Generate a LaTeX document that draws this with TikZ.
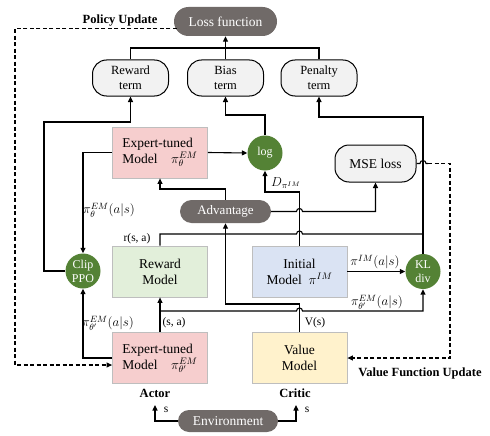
\RequirePackage{fix-cm}
\documentclass[tikz,border=0pt]{standalone}
\usepackage{fontspec}
\setmainfont{Liberation Serif}
\usetikzlibrary{arrows.meta,calc,shapes.misc}
\definecolor{stadgray}{RGB}{112,106,104}
\definecolor{cgreen}{RGB}{84,130,53}
\definecolor{termfill}{RGB}{242,242,242}
\definecolor{pinkfill}{RGB}{246,206,206}
\definecolor{greenfill}{RGB}{226,239,218}
\definecolor{bluefill}{RGB}{218,227,243}
\definecolor{yellowfill}{RGB}{255,242,204}
\definecolor{boxborder}{RGB}{190,190,190}
\tikzset{
  ln/.style={line width=1.1pt},
  dsh/.style={dash pattern=on 4pt off 2.5pt},
  arr/.style={-{Triangle[length=5.5pt,width=5pt]}},
  stad/.style={rounded rectangle, fill=stadgray, text=white, inner sep=0pt, font=\fontsize{13.5}{16}\selectfont},
  term/.style={draw, line width=1pt, fill=termfill, rounded corners=14pt, minimum width=76pt, minimum height=36pt, inner sep=0pt, align=center, font=\fontsize{12.5}{15}\selectfont},
  model/.style={draw=boxborder, line width=0.8pt, minimum width=95pt, minimum height=51pt, inner sep=0pt, align=center, font=\fontsize{13.5}{16}\selectfont},
  circ/.style={circle, fill=cgreen, text=white, minimum size=35pt, inner sep=0pt, align=center, font=\fontsize{12}{14}\selectfont},
  lab/.style={inner sep=0pt, font=\fontsize{11.5}{13}\selectfont},
  mlab/.style={inner sep=0pt, font=\fontsize{13}{15}\selectfont},
  blab/.style={inner sep=0pt, font=\fontsize{12.5}{15}\selectfont\bfseries},
}
\begin{document}
\begin{tikzpicture}[x=1pt,y=-1pt]
\useasboundingbox (0,0) rectangle (490,436);
% nodes
\node[stad, minimum width=103pt, minimum height=29pt] (loss) at (225.5,21.5) {Loss function};
\node[term] (rt) at (130.5,78) {Reward\\term};
\node[term] (bt) at (225.5,78) {Bias\\term};
\node[term] (pt) at (319,78) {Penalty\\term};
\node[model, fill=pinkfill, align=left] (et) at (160,152.5) {Expert-tuned\\Model\quad$\pi^{EM}_{\theta}$};
\node[circ] (log) at (265,153) {log};
\node[term, minimum width=81pt, minimum height=37pt, font=\fontsize{13.5}{16}\selectfont] (mse) at (375.5,163.5) {MSE loss};
\node[stad, minimum width=91pt, minimum height=23pt, font=\fontsize{13}{15}\selectfont] (adv) at (225.5,211.5) {Advantage};
\node[model, fill=greenfill] (rm) at (160,271.5) {Reward\\Model};
\node[model, fill=bluefill] (im) at (299.5,271.5) {Initial\\Model\ \ $\pi^{IM}$};
\node[circ] (clip) at (83,271) {Clip\\PPO};
\node[circ] (kl) at (423,271.5) {KL\\div};
\node[model, fill=pinkfill, align=left] (ea) at (160,358) {Expert-tuned\\Model\quad$\pi^{EM}_{\theta'}$};
\node[model, fill=yellowfill] (vm) at (299.5,358) {Value\\Model};
\node[stad, minimum width=100pt, minimum height=22pt] (env) at (228,421) {Environment};
% text labels
\node[blab] (pu) at (120,21) {Policy Update};
\node[blab] (vfu) at (420,373) {Value Function Update};
\node[blab] (actor) at (155,393) {Actor};
\node[blab] (critic) at (295,393) {Critic};
\node[lab] (lrsa) at (137,239) {r(s, a)};
\node[lab] (lsa) at (174,323) {(s, a)};
\node[lab] (lvs) at (315,323) {V(s)};
\node[lab] (ls1) at (166,410) {s};
\node[lab] (ls2) at (307,410) {s};
\node[mlab] (lp1) at (109,210) {$\pi^{EM}_{\theta}(a|s)$};
\node[mlab] (lp2) at (108,323) {$\pi^{EM}_{\theta'}(a|s)$};
\node[mlab] (lp3) at (375,262) {$\pi^{IM}(a|s)$};
\node[mlab] (lp4) at (377,302) {$\pi^{EM}_{\theta'}(a|s)$};
\node[mlab] (ld) at (286,183) {$D_{\pi^{IM}}$};
% coordinates
\coordinate (j1) at (225.5,48);
\coordinate (c1) at (44,122);
\coordinate (c2) at (225.5,115);
\coordinate (c3) at (423,117);
\coordinate (h1) at (299.5,234);
\coordinate (c5) at (265,192);
\coordinate (c6) at (160,189);
\coordinate (h2) at (299.5,211.5);
\coordinate (c7) at (160,311);
\coordinate (h3) at (299.5,311);
\coordinate (c8) at (225.5,304);
\coordinate (h4) at (423,163.5);
\coordinate (c10) at (450,358);
\coordinate (c9) at (15,365);
\coordinate (a1) at (155,405);
\coordinate (a2) at (296,405);
% connectors
\draw[ln] (rt.north) |- (j1) -| (pt.north);
\draw[ln,arr] (bt.north) -- (loss.south);
\draw[ln,arr] (clip.west) -| (c1) -| (rt.south);
\draw[ln,arr] (et.west) -| (clip.north);
\draw[ln,arr] (ea.west) -| (clip.south);
\draw[ln,arr] (et.east) -- (log.west);
\draw[ln,arr] (log.north) |- (c2) -- (bt.south);
\draw[ln,arr] (kl.north) -- (c3) -| (pt.south);
\draw[ln] (rm.north) |- ([xshift=-3pt]h1) arc[start angle=180,end angle=0,radius=3pt] -- (h1 -| kl.north);
\draw[ln,arr] (im.north) |- (c5) -- (log.south);
\draw[ln,arr] (adv.north) |- (c6) -- (et.south);
\draw[ln,arr] (adv.east) -- ([xshift=-3pt]h2) arc[start angle=180,end angle=0,radius=3pt] -| (mse.south);
\draw[ln,arr] (ea.north) -- (rm.south);
\draw[ln,arr] (c7) -- ([xshift=-3pt]h3) arc[start angle=180,end angle=0,radius=3pt] -| (kl.south);
\draw[ln,arr] (vm.north) |- (c8) -- (adv.south);
\draw[ln,arr] (im.east) -- (kl.west);
\draw[ln] (mse.east) -- ([xshift=-3pt]h4) arc[start angle=180,end angle=0,radius=3pt] -- ([xshift=5pt]h4);
\draw[ln,dsh,arr] ([xshift=5pt]h4) -| (c10) -- (vm.east);
\draw[ln,dsh,arr] ([shift={(3pt,-7pt)}]loss.west) -| (c9) -- (c9 -| ea.west);
\draw[ln,arr] (env.west) -| (a1);
\draw[ln,arr] (env.east) -| (a2);
\end{tikzpicture}
\end{document}
